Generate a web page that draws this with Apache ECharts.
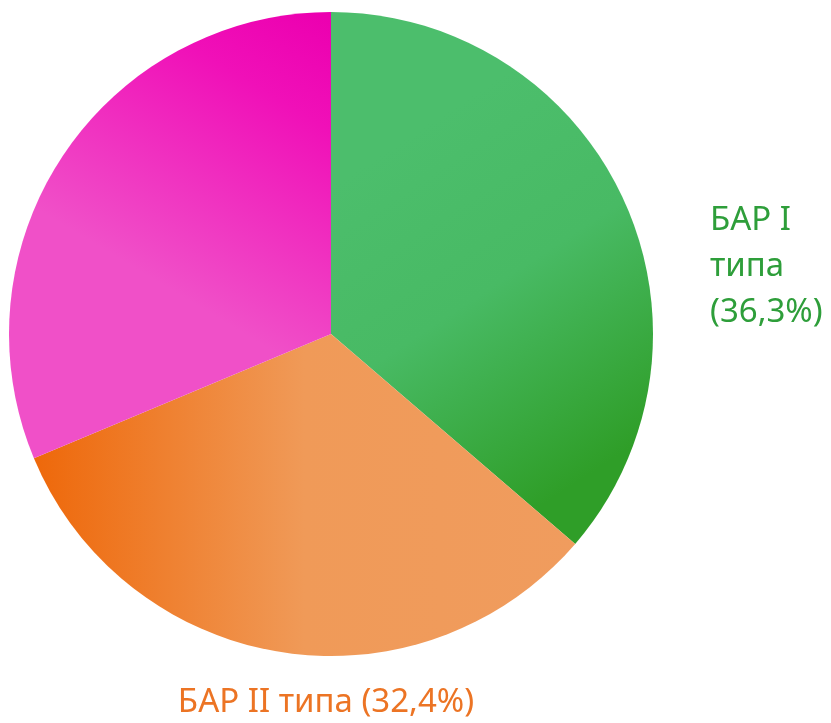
<!DOCTYPE html>
<html><head><meta charset="utf-8">
<script src="https://cdn.jsdelivr.net/npm/echarts@6/dist/echarts.min.js"></script>
<style>html,body{margin:0;padding:0;background:#fff}#c{width:831px;height:723px}</style>
</head><body><div id="c"></div>
<script>
var categories = ['БАР I типа', 'БАР II типа', 'Другие'];
var values = [36.3, 32.4, 31.3];
var labelTexts = ['БАР I\nтипа\n(36,3%)', 'БАР II типа (32,4%)', ''];

var chart = echarts.init(document.getElementById('c'));
function grad(x, y, x2, y2, stops) {
  return new echarts.graphic.LinearGradient(x, y, x2, y2, stops);
}
var fills = [
  grad(0.2, 0.25, 0.85, 0.85, [{offset:0,color:'#4cbe6c'},{offset:0.45,color:'#48ba64'},{offset:1,color:'#2f9e28'}]),
  grad(0, 0, 1, 0, [{offset:0,color:'#ee680a'},{offset:0.5,color:'#f09a58'},{offset:1,color:'#f09c5e'}]),
  grad(0.95, 0, 0.45, 0.6, [{offset:0,color:'#ec00b0'},{offset:0.3,color:'#f010b8'},{offset:1,color:'#f050c8'}])
];
var labelColors = ['#2e9e3a', '#ec7424', '#ec00b0'];
var data = categories.map(function (c, i) {
  return {
    name: c, value: values[i],
    itemStyle: { color: fills[i] },
    label: { show: labelTexts[i] !== '', color: labelColors[i], formatter: labelTexts[i] }
  };
});
chart.setOption({
  animation: false,
  series: [{
    type: 'pie',
    center: [331, 334],
    radius: 322,
    startAngle: 90,
    clockwise: true,
    data: data,
    itemStyle: { borderWidth: 0 },
    label: {
      position: 'outside',
      fontFamily: 'Noto Sans',
      fontSize: 33,
      lineHeight: 46,
      align: 'left',
      overflow: 'none',
      width: 600
    },
    labelLine: { show: false },
    labelLayout: function (p) {
      if (p.dataIndex === 0) return { x: 710, y: 267, align: 'left', verticalAlign: 'middle' };
      if (p.dataIndex === 1) return { x: 326, y: 703, align: 'center', verticalAlign: 'middle' };
      return {};
    }
  }]
});
</script></body></html>
